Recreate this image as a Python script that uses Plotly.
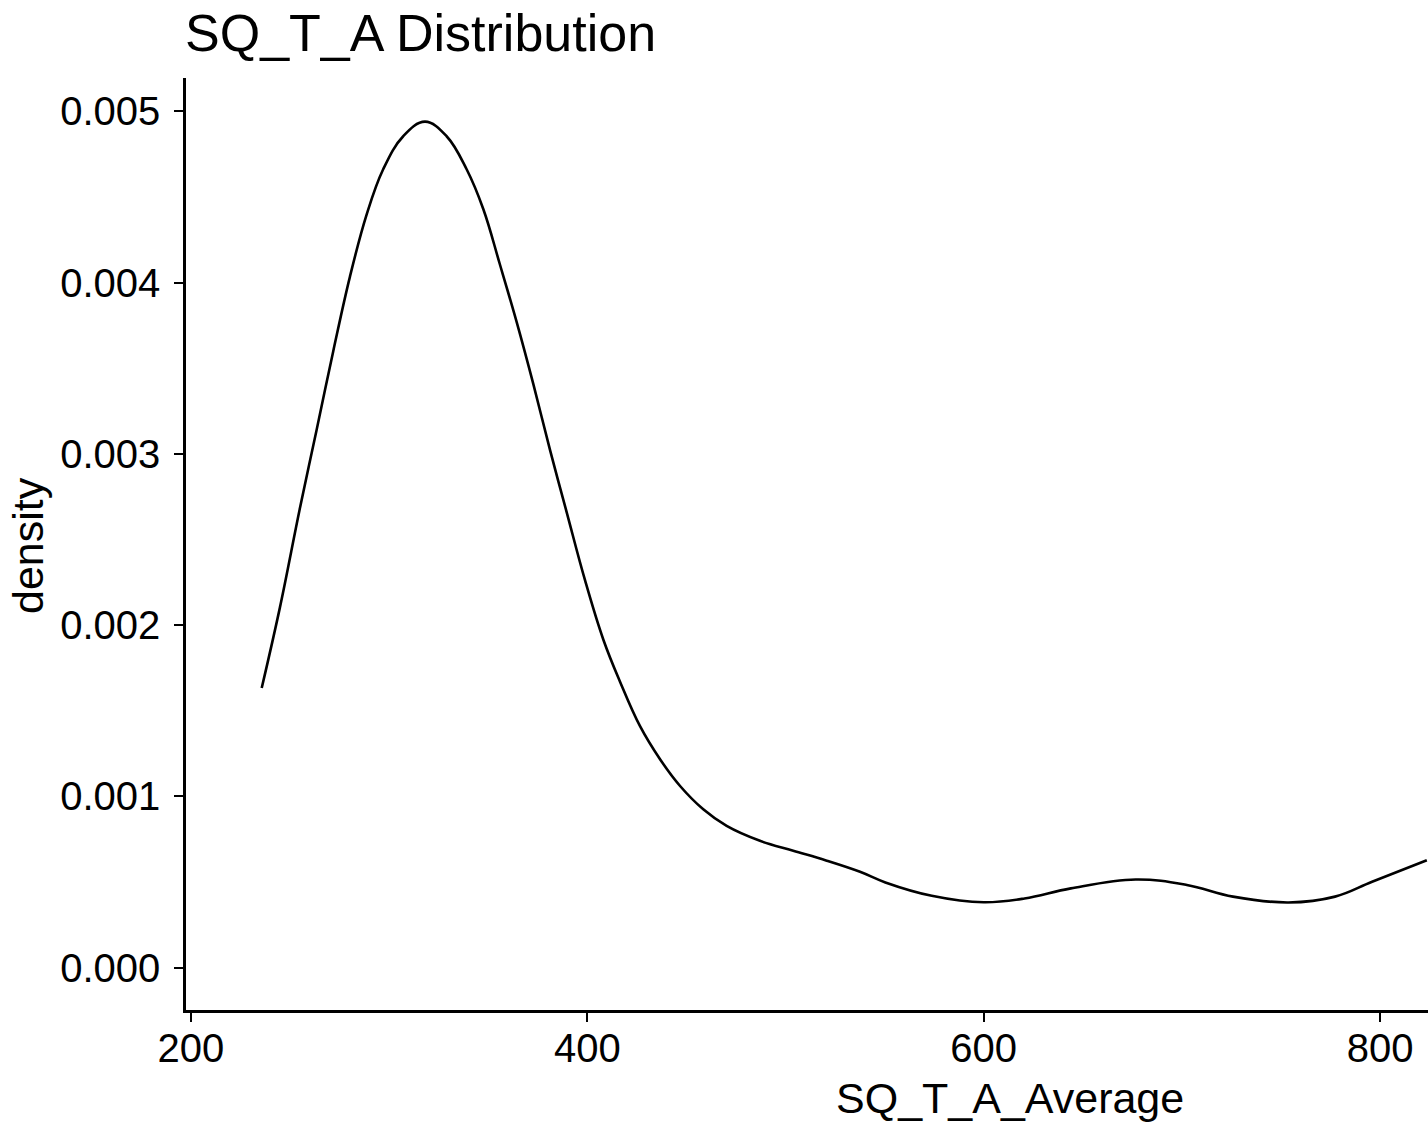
import plotly.graph_objects as go

# Kernel density estimate of SQ_T_A_Average
sq_t_a_average = [235.7, 244.9, 255.0, 263.4, 271.8, 280.2, 288.6, 297.0, 307.1, 318.1,
                  329.0, 339.1, 347.5, 355.9, 364.4, 372.8, 381.2, 389.6, 398.8, 408.1,
                  416.5, 426.6, 436.7, 446.8, 458.5, 470.3, 487.1, 503.9, 520.8, 537.6,
                  550.4, 573.8, 600.0, 620.6, 644.0, 676.7, 702.5, 725.8, 753.9, 777.3,
                  796.0, 823.6]
density = [1.633, 2.104, 2.684, 3.140, 3.600, 4.034, 4.396, 4.662, 4.855, 4.940,
           4.855, 4.662, 4.430, 4.106, 3.768, 3.406, 3.022, 2.659, 2.264, 1.915,
           1.670, 1.410, 1.217, 1.061, 0.925, 0.828, 0.741, 0.683, 0.625, 0.560,
           0.498, 0.420, 0.382, 0.404, 0.463, 0.515, 0.483, 0.415, 0.381, 0.415,
           0.502, 0.627]
density = [d / 1000 for d in density]

x_ticks = [200, 400, 600, 800]
y_ticks = [0.000, 0.001, 0.002, 0.003, 0.004, 0.005]
y_tick_text = ["0.000", "0.001", "0.002", "0.003", "0.004", "0.005"]

W, H = 1428, 1124
L, R, T, B = 186, 0, 78, 114
FONT = "Liberation Sans, Arial, Helvetica, sans-serif"

fig = go.Figure()
fig.add_trace(go.Scatter(
    x=sq_t_a_average, y=density, mode="lines",
    line=dict(color="black", width=2.6, shape="spline", smoothing=1.1),
    hoverinfo="skip", showlegend=False,
))

axis_common = dict(
    showgrid=False, zeroline=False, showline=True, linecolor="black", linewidth=2.5,
    ticks="outside", ticklen=9, tickwidth=2.2, tickcolor="black",
    tickfont=dict(family=FONT, size=40, color="black"),
)

fig.update_xaxes(range=[197.5, 824.2], tickvals=x_ticks, ticklabelstandoff=-8, **axis_common)
fig.update_yaxes(range=[-0.000247, 0.005195], tickvals=y_ticks, ticktext=y_tick_text,
                 ticklabelstandoff=6, **axis_common)

fig.update_layout(
    width=W, height=H,
    margin=dict(l=L, r=R, t=T, b=B),
    paper_bgcolor="white", plot_bgcolor="white",
    font=dict(family=FONT, color="black"),
    annotations=[
        dict(text="SQ_T_A Distribution", xref="paper", yref="paper",
             x=(183 - L) / (W - L - R), y=1 + (T - 33) / (H - T - B),
             xanchor="left", yanchor="middle", showarrow=False,
             font=dict(family=FONT, size=52, color="black")),
        dict(text="SQ_T_A_Average", xref="paper", yref="paper",
             x=(1010 - L) / (W - L - R), y=-(1098 - (H - B)) / (H - T - B),
             xanchor="center", yanchor="middle", showarrow=False,
             font=dict(family=FONT, size=43, color="black")),
        dict(text="density", xref="paper", yref="paper",
             x=-(L - 28) / (W - L - R), y=(H - B - 546) / (H - T - B),
             xanchor="center", yanchor="middle", textangle=-90, showarrow=False,
             font=dict(family=FONT, size=43, color="black")),
    ],
)

fig.write_html("out.html")
